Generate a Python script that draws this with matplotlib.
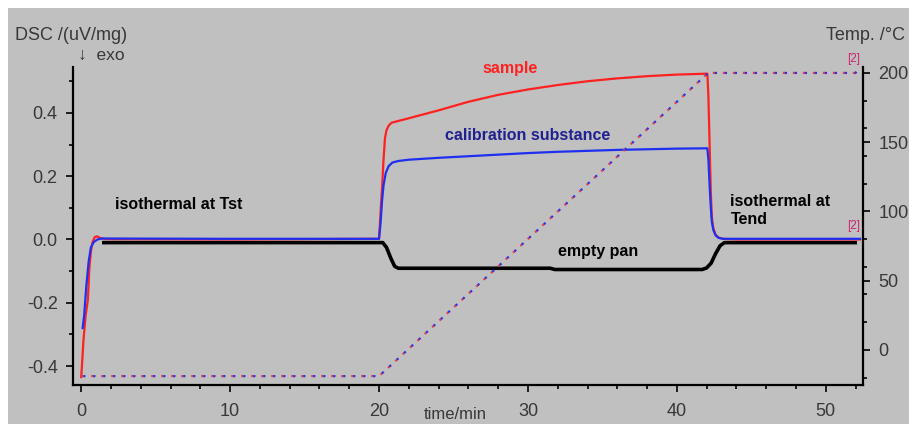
import matplotlib
matplotlib.use("Agg")
import matplotlib.pyplot as plt
from matplotlib.patches import Rectangle
from matplotlib.ticker import MultipleLocator

plt.rcParams['font.family'] = ['Liberation Sans', 'DejaVu Sans']

# sample (red)
t_sample = [0.0, 0.05, 0.15, 0.3, 0.45, 0.55, 0.65, 0.75, 0.9, 1.05, 1.3, 1.7, 10, 20.0,
            20.05, 20.12, 20.2, 20.3, 20.4, 20.5, 20.65, 20.85, 22, 24, 26, 28, 30, 32,
            34, 36, 38, 40, 42.05, 42.12, 42.2, 42.28, 42.35, 42.45, 42.6, 42.8, 43.1,
            44, 52.3]
dsc_sample = [-0.435, -0.40, -0.32, -0.24, -0.19, -0.09, -0.04, -0.01, 0.007, 0.01, 0.004,
              0.001, 0.0, 0.002, 0.04, 0.10, 0.16, 0.25, 0.32, 0.345, 0.36, 0.369, 0.383,
              0.408, 0.435, 0.457, 0.474, 0.488, 0.50, 0.509, 0.516, 0.521, 0.524, 0.45,
              0.30, 0.15, 0.07, 0.035, 0.015, 0.006, 0.002, 0.0, 0.0]

# calibration substance (blue)
t_calib = [0.1, 0.2, 0.34, 0.5, 0.65, 0.85, 1.1, 1.4, 10, 20.0, 20.1, 20.2, 20.3, 20.45,
           20.65, 20.9, 21.3, 22, 24, 26, 28, 30, 32, 34, 36, 38, 40, 42.05, 42.12, 42.2,
           42.28, 42.35, 42.45, 42.6, 42.8, 43.1, 44, 52.3]
dsc_calib = [-0.28, -0.24, -0.15, -0.07, -0.025, -0.008, 0.0, 0.003, 0.002, 0.002, 0.05,
             0.12, 0.17, 0.21, 0.232, 0.243, 0.248, 0.252, 0.258, 0.263, 0.268, 0.273,
             0.277, 0.28, 0.283, 0.285, 0.287, 0.288, 0.25, 0.17, 0.10, 0.055, 0.03, 0.013,
             0.005, 0.002, 0.002, 0.002]

# empty pan (black)
t_empty = [1.4, 20.25, 20.5, 20.8, 21.05, 21.3, 31.5, 31.8, 41.7, 42.0, 42.3, 42.6, 42.9,
           43.2, 52.1]
dsc_empty = [-0.01, -0.01, -0.025, -0.06, -0.085, -0.091, -0.091, -0.095, -0.095, -0.09,
             -0.075, -0.045, -0.02, -0.01, -0.01]

# furnace temperature programme
t_temp = [0.0, 20.0, 42.1, 52.0, 52.3]
temp = [-19, -19, 200, 200, 205]

GRAY = '#c0c0c0'
TXT = '#383838'

fig = plt.figure(figsize=(9.09, 4.24), dpi=100)
fig.patch.set_facecolor('white')
fig.patches.append(Rectangle((8 / 909, 0), 1, 1 - 8 / 424, transform=fig.transFigure,
                             facecolor=GRAY, edgecolor='none', zorder=-10))

ax = fig.add_axes([73 / 909, 39 / 424, 790 / 909, 318 / 424])
ax.set_facecolor(GRAY)
ax2 = ax.twinx()

ax.plot(t_empty, dsc_empty, color='black', lw=2.6, solid_capstyle='butt')
ax.plot(t_sample, dsc_sample, color='#ff2020', lw=1.6)
ax.plot(t_calib, dsc_calib, color='#1f2ff0', lw=1.6)

# temperature drawn as interleaved red/blue dots
ax2.plot(t_temp, temp, color='#e04050', lw=1.6, linestyle=(0, (1, 3.5)))
ax2.plot(t_temp, temp, color='#3030e0', lw=1.6, linestyle=(3.6, (1, 3.5)))

ax.set_xlim(-0.55, 52.5)
ax.set_ylim(-0.46, 0.545)
ax2.set_ylim(-25.4, 204.3)

ax.xaxis.set_major_locator(MultipleLocator(10))
ax.xaxis.set_minor_locator(MultipleLocator(2))
ax.yaxis.set_major_locator(MultipleLocator(0.2))
ax.yaxis.set_minor_locator(MultipleLocator(0.1))
ax2.yaxis.set_major_locator(MultipleLocator(50))
ax2.yaxis.set_minor_locator(MultipleLocator(20))

for a in (ax, ax2):
    a.spines['top'].set_visible(False)
    for s in a.spines.values():
        s.set_linewidth(1.6)
ax.spines['right'].set_visible(False)
ax2.spines['left'].set_visible(False)
ax2.spines['bottom'].set_visible(False)

ax.tick_params(which='major', length=5, width=1.2, labelsize=13, labelcolor=TXT, pad=6)
ax.tick_params(which='minor', length=3, width=1.2)
ax.tick_params(axis='x', pad=8)
ax2.tick_params(which='major', length=5, width=1.2, labelsize=13, labelcolor=TXT, pad=6)
ax2.tick_params(which='minor', length=3, width=1.2)
ax.set_yticklabels([f'{v:.1f}' for v in ax.get_yticks()])

# axis titles
fig.text(15 / 909, 1 - 36 / 424, 'DSC /(uV/mg)', fontsize=13, color=TXT, va='center', ha='left')
fig.text(78 / 909, 1 - 55 / 424, '\u2193  exo', fontsize=12.5, color=TXT, va='center', ha='left')
fig.text(905 / 909, 1 - 36 / 424, 'Temp. /\u00b0C', fontsize=13, color=TXT, va='center', ha='right')
fig.text(455 / 909, 1 - 407 / 424, 'time/min', fontsize=12, color=TXT, va='top', ha='center')

# curve annotations
ax.text(28.8, 0.54, 'sample', color='#ff2020', fontsize=11.5, fontweight='bold',
        ha='center', va='center')
ax.text(30.0, 0.327, 'calibration substance', color='#202090', fontsize=11.5,
        fontweight='bold', ha='center', va='center')
ax.text(2.3, 0.111, 'isothermal at Tst', color='black', fontsize=11.5, fontweight='bold',
        ha='left', va='center')
ax.text(43.6, 0.092, 'isothermal at\nTend', color='black', fontsize=11.5, fontweight='bold',
        ha='left', va='center', linespacing=1.3)
ax.text(32.0, -0.038, 'empty pan', color='black', fontsize=11.5, fontweight='bold',
        ha='left', va='center')

# segment markers at the end of the run
ax2.text(51.9, 206, '[2]', color='#d02070', fontsize=8.5, ha='center', va='bottom')
ax.text(51.9, 0.022, '[2]', color='#d02070', fontsize=8.5, ha='center', va='bottom')

fig.savefig('out.png', dpi=100)
